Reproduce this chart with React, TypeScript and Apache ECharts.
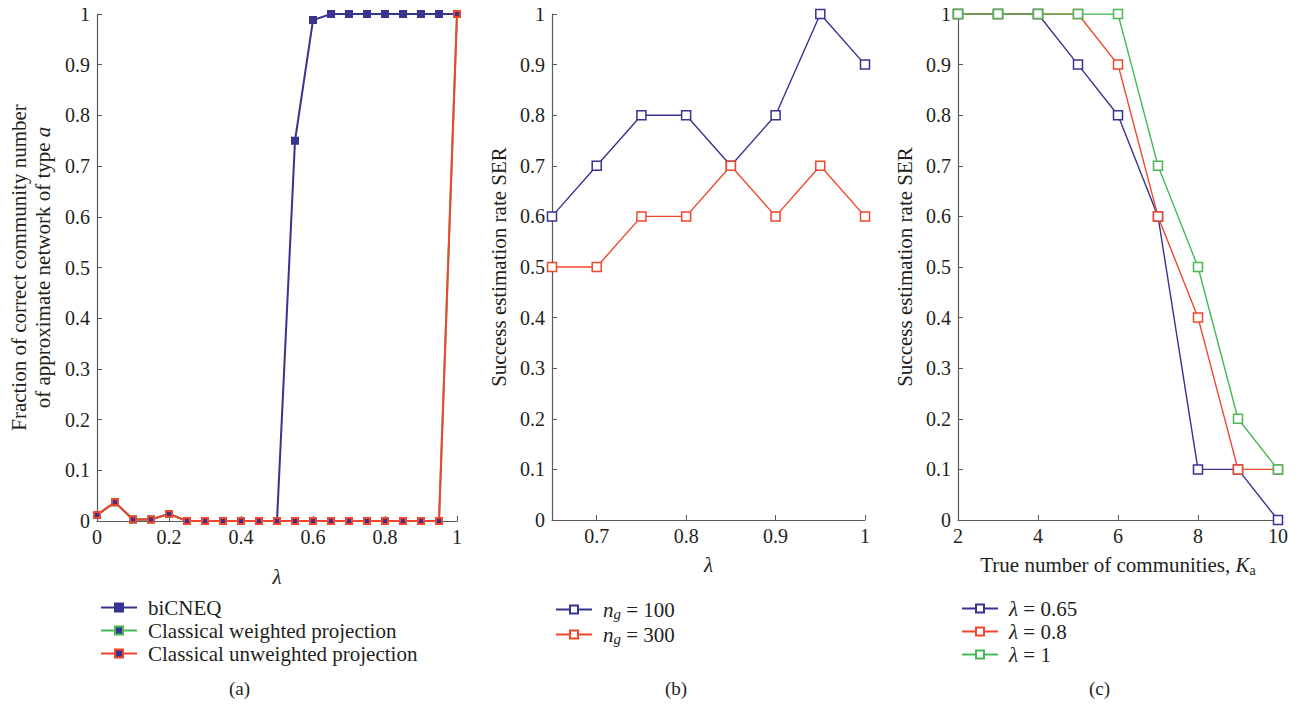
import React, { useEffect, useRef } from "react";
import * as echarts from "echarts";

// ---------- data ----------
const lambdaA = [0, 0.05, 0.1, 0.15, 0.2, 0.25, 0.3, 0.35, 0.4, 0.45, 0.5, 0.55, 0.6, 0.65, 0.7, 0.75, 0.8, 0.85, 0.9, 0.95, 1];
const biCNEQ = [0.012, 0.037, 0.003, 0.003, 0.014, 0, 0, 0, 0, 0, 0, 0.75, 0.988, 1, 1, 1, 1, 1, 1, 1, 1];
const weightedProj = [0.012, 0.037, 0.003, 0.003, 0.014, 0, 0, 0, 0, 0, 0, 0, 0, 0, 0, 0, 0, 0, 0, 0, 1];
const unweightedProj = [0.012, 0.037, 0.003, 0.003, 0.014, 0, 0, 0, 0, 0, 0, 0, 0, 0, 0, 0, 0, 0, 0, 0, 1];

const lambdaB = [0.65, 0.7, 0.75, 0.8, 0.85, 0.9, 0.95, 1];
const ng100 = [0.6, 0.7, 0.8, 0.8, 0.7, 0.8, 1, 0.9];
const ng300 = [0.5, 0.5, 0.6, 0.6, 0.7, 0.6, 0.7, 0.6];

const kTrue = [2, 3, 4, 5, 6, 7, 8, 9, 10];
const lam065 = [1, 1, 1, 0.9, 0.8, 0.6, 0.1, 0.1, 0];
const lam08 = [1, 1, 1, 1, 0.9, 0.6, 0.4, 0.1, 0.1];
const lam1 = [1, 1, 1, 1, 1, 0.7, 0.5, 0.2, 0.1];

const ticksB = [0.7, 0.8, 0.9, 1];
const captions = ["(a)", "(b)", "(c)"];

// ---------- style ----------
const FONT = "Liberation Serif";
const TXT = "#231F20";
const AX = "#58595B";
const BLUE = "#37338F";
const RED = "#F0462C";
const GREEN = "#46B955";
const TICK_FS = 20;
const NAME_FS = 21;

const yAxisBase = (gridIndex: number, name: string, nameGap: number) => ({
  type: "value",
  gridIndex,
  min: 0,
  max: 1,
  interval: 0.1,
  splitLine: { show: false },
  axisLine: { show: true, lineStyle: { color: AX, width: 1.2 } },
  axisTick: { show: true, inside: true, length: 5, lineStyle: { color: AX } },
  axisLabel: { color: TXT, fontFamily: FONT, fontSize: TICK_FS, margin: 7 },
  name,
  nameLocation: "middle",
  nameGap,
  nameRotate: 90,
  nameTextStyle: {
    color: TXT,
    fontFamily: FONT,
    fontSize: NAME_FS,
    lineHeight: 24,
    rich: {
      r: { fontFamily: FONT, fontSize: NAME_FS, color: TXT, lineHeight: 24 },
      i: { fontStyle: "italic", fontFamily: FONT, fontSize: NAME_FS, color: TXT, lineHeight: 24 },
    },
  },
});

const xAxisBase = (gridIndex: number) => ({
  type: "value",
  gridIndex,
  splitLine: { show: false },
  axisLine: { show: true, onZero: false, lineStyle: { color: AX, width: 1.2 } },
  axisTick: { show: true, inside: true, length: 5, lineStyle: { color: AX } },
  axisLabel: { color: TXT, fontFamily: FONT, fontSize: TICK_FS, margin: 6 },
  nameLocation: "middle",
  nameTextStyle: {
    color: TXT,
    fontFamily: FONT,
    fontSize: NAME_FS,
    rich: {
      r: { fontFamily: FONT, fontSize: NAME_FS, color: TXT },
      i: { fontStyle: "italic", fontFamily: FONT, fontSize: NAME_FS, color: TXT },
      sub: { fontFamily: FONT, fontSize: 14, color: TXT, padding: [10, 0, 0, 0] },
    },
  },
});

const legendBase = {
  orient: "vertical",
  itemWidth: 36,
  itemHeight: 10,
  itemGap: 3,
  textStyle: {
    color: TXT,
    fontFamily: FONT,
    fontSize: NAME_FS,
    lineHeight: 20,
    padding: [0, 0, 0, 6],
    rich: {
      r: { fontFamily: FONT, fontSize: NAME_FS, color: TXT, lineHeight: 20 },
      i: { fontStyle: "italic", fontFamily: FONT, fontSize: NAME_FS, color: TXT, lineHeight: 20 },
      sub: { fontStyle: "italic", fontFamily: FONT, fontSize: 15, color: TXT, lineHeight: 14, padding: [8, 0, 0, 0] },
    },
  },
};

const zip = (xs: number[], ys: number[]) => xs.map((x, i) => [x, ys[i]]);

export default function App() {
  const ref = useRef<HTMLDivElement>(null);
  useEffect(() => {
    if (!ref.current) return;
    const chart = echarts.init(ref.current, null, { renderer: "svg" });

    const solidSquare = (color: string, fill: string) => ({
      type: "line",
      symbol: "rect",
      symbolSize: 6,
      lineStyle: { color, width: 2 },
      itemStyle: { color: fill, borderColor: color, borderWidth: 2 },
      xAxisIndex: 0,
      yAxisIndex: 0,
    });
    const hollow = (color: string, idx: number) => ({
      type: "line",
      symbol: "rect",
      symbolSize: 9,
      showAllSymbol: true,
      lineStyle: { color, width: 1.4 },
      itemStyle: { color: "#ffffff", borderColor: color, borderWidth: 1.5 },
      xAxisIndex: idx,
      yAxisIndex: idx,
    });

    chart.setOption({
      animation: false,
      backgroundColor: "#ffffff",
      grid: [
        { left: 97, top: 14, width: 360, height: 507 },
        { left: 552, top: 14, width: 313, height: 506 },
        { left: 958, top: 14, width: 320, height: 506 },
      ],
      xAxis: [
        {
          ...xAxisBase(0),
          min: 0,
          max: 1,
          interval: 0.2,
          name: "{i|λ}",
          nameGap: 45,
        },
        {
          ...xAxisBase(1),
          min: 0.65,
          max: 1,
          axisTick: { show: true, inside: true, length: 5, lineStyle: { color: AX }, customValues: ticksB },
          axisLabel: { color: TXT, fontFamily: FONT, fontSize: TICK_FS, margin: 6, customValues: ticksB },
          name: "{i|λ}",
          nameGap: 34,
        },
        {
          ...xAxisBase(2),
          min: 2,
          max: 10,
          interval: 2,
          name: "{r|True number of communities, }{i|K}{sub|a}",
          nameGap: 33,
        },
      ],
      yAxis: [
        yAxisBase(0, "{r|Fraction of correct community number}\n{r|of approximate network of type }{i|a}", 42),
        yAxisBase(1, "Success estimation rate SER", 41),
        yAxisBase(2, "Success estimation rate SER", 41),
      ],
      legend: [
        {
          ...legendBase,
          left: 95,
          top: 592,
          itemGap: 2,
          data: ["biCNEQ", "Classical weighted projection", "Classical unweighted projection"],
          formatter: (n: string) => `{r|${n}}`,
        },
        {
          ...legendBase,
          left: 550,
          top: 593,
          itemGap: 2,
          data: ["n100", "n300"],
          formatter: (n: string) => (n === "n100" ? "{i|n}{sub|g}{r| = 100}" : "{i|n}{sub|g}{r| = 300}"),
        },
        {
          ...legendBase,
          left: 956,
          top: 593,
          itemGap: 2,
          data: ["l065", "l08", "l1"],
          formatter: (n: string) =>
            n === "l065" ? "{i|λ}{r| = 0.65}" : n === "l08" ? "{i|λ}{r| = 0.8}" : "{i|λ}{r| = 1}",
        },
      ],
      graphic: [
        { type: "text", left: 229, top: 679, style: { text: captions[0], font: `19px "${FONT}"`, fill: TXT } },
        { type: "text", left: 665, top: 679, style: { text: captions[1], font: `19px "${FONT}"`, fill: TXT } },
        { type: "text", left: 1089, top: 679, style: { text: captions[2], font: `19px "${FONT}"`, fill: TXT } },
      ],
      series: [
        { ...solidSquare(BLUE, BLUE), name: "biCNEQ", data: zip(lambdaA, biCNEQ), z: 2 },
        { ...solidSquare(GREEN, BLUE), name: "Classical weighted projection", data: zip(lambdaA, weightedProj), z: 3 },
        { ...solidSquare(RED, BLUE), name: "Classical unweighted projection", data: zip(lambdaA, unweightedProj), z: 4 },
        { ...hollow(BLUE, 1), name: "n100", data: zip(lambdaB, ng100), z: 2 },
        { ...hollow(RED, 1), name: "n300", data: zip(lambdaB, ng300), z: 3 },
        { ...hollow(BLUE, 2), name: "l065", data: zip(kTrue, lam065), z: 2 },
        { ...hollow(RED, 2), name: "l08", data: zip(kTrue, lam08), z: 3 },
        { ...hollow(GREEN, 2), name: "l1", data: zip(kTrue, lam1), z: 4 },
      ],
    });
    return () => chart.dispose();
  }, []);
  return <div ref={ref} style={{ width: 1299, height: 710, margin: -8 }} />;
}
